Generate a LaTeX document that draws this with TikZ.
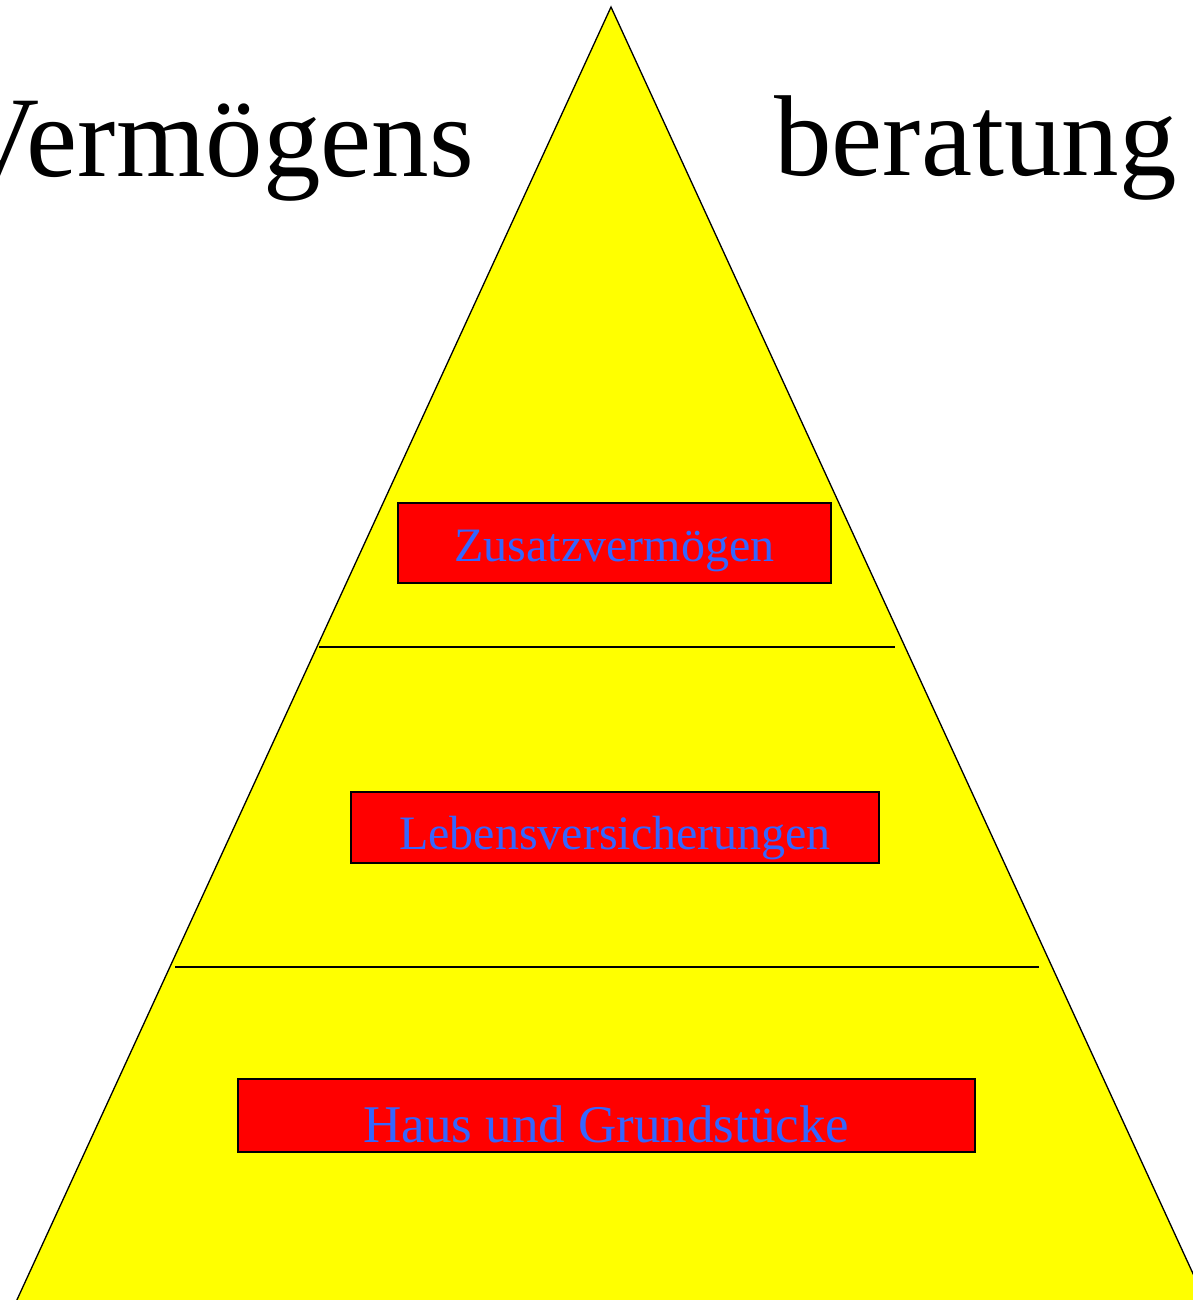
\documentclass[tikz,border=0pt]{standalone}
\usepackage{fontspec}
\setmainfont{Liberation Serif}
\definecolor{pyryellow}{HTML}{FFFF00}
\definecolor{boxred}{HTML}{FF0000}
\definecolor{txtblue}{HTML}{3366FF}
\begin{document}
\begin{tikzpicture}[x=1pt,y=-1pt,
  levelbox/.style={draw=black, line width=1.3pt, fill=boxred, text=txtblue,
    inner sep=0pt, text depth=0pt},
  titletext/.style={inner sep=0pt, font=\fontsize{115}{120}\selectfont},
  divider/.style={draw=black, line width=1.3pt}]
\useasboundingbox (0,0) rectangle (1193,1300);
\clip (0,0) rectangle (1193,1300);
\coordinate (apex) at (611,7);
\coordinate (bl) at (15.5,1303);
\coordinate (br) at (1206.5,1303);
\draw[fill=pyryellow, line width=1.3pt, line join=miter] (bl) -- (apex) -- (br) -- cycle;
\coordinate (l1a) at (319,647);
\coordinate (l1b) at (895,647);
\coordinate (l2a) at (175,967);
\coordinate (l2b) at (1039,967);
\draw[divider] (l1a) -- (l1b);
\draw[divider] (l2a) -- (l2b);
\node[levelbox, minimum width=433pt, minimum height=80pt, text height=36pt,
  font=\fontsize{48}{50}\selectfont] (zus) at (614.5,543) {Zusatzvermögen};
\node[levelbox, minimum width=528pt, minimum height=71pt, text height=43pt,
  font=\fontsize{48}{50}\selectfont] (leb) at (615,827.5) {Lebensversicherungen};
\node[levelbox, minimum width=737pt, minimum height=73pt, text height=53pt,
  font=\fontsize{53}{55}\selectfont] (haus) at (606.5,1115.5) {Haus und Grundstücke};
\node[titletext, anchor=base east] (t1) at (474,177) {Vermögens};
\node[titletext, anchor=base west] (t2) at (774,176) {beratung};
\end{tikzpicture}
\end{document}
